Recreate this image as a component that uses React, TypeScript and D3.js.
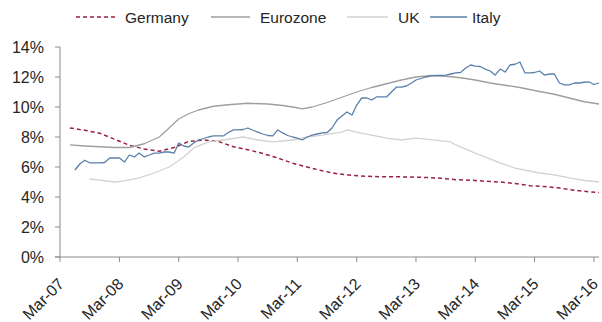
import React from "react";
import * as d3 from "d3";

// Unemployment rate, % of labour force (monthly observations)
const germany: [string, number][] = [
  ["2007-05", 8.6], ["2007-08", 8.45], ["2007-11", 8.25], ["2008-02", 7.85], ["2008-05", 7.45],
  ["2008-08", 7.2], ["2008-11", 7.05], ["2009-02", 7.3], ["2009-05", 7.7], ["2009-08", 7.8],
  ["2009-11", 7.7], ["2010-02", 7.35], ["2010-05", 7.15], ["2010-08", 6.9], ["2010-11", 6.6],
  ["2011-02", 6.25], ["2011-05", 6.0], ["2011-08", 5.75], ["2011-11", 5.55], ["2012-02", 5.45],
  ["2012-05", 5.38], ["2012-08", 5.35], ["2012-11", 5.35], ["2013-02", 5.33], ["2013-05", 5.3],
  ["2013-08", 5.25], ["2013-11", 5.15], ["2014-02", 5.12], ["2014-05", 5.05], ["2014-08", 5.0],
  ["2014-11", 4.9], ["2015-02", 4.75], ["2015-05", 4.7], ["2015-08", 4.6], ["2015-11", 4.45],
  ["2016-02", 4.35], ["2016-04", 4.3],
];

const eurozone: [string, number][] = [
  ["2007-05", 7.47], ["2007-08", 7.4], ["2007-11", 7.35], ["2008-02", 7.3], ["2008-05", 7.3],
  ["2008-08", 7.55], ["2008-11", 8.0], ["2009-01", 8.6], ["2009-03", 9.2], ["2009-05", 9.55],
  ["2009-07", 9.8], ["2009-10", 10.05], ["2010-01", 10.15], ["2010-05", 10.25], ["2010-09", 10.2],
  ["2010-12", 10.1], ["2011-03", 9.95], ["2011-04", 9.87], ["2011-06", 10.0], ["2011-09", 10.3],
  ["2011-12", 10.65], ["2012-03", 11.0], ["2012-06", 11.3], ["2012-09", 11.55], ["2012-12", 11.8],
  ["2013-03", 12.0], ["2013-06", 12.1], ["2013-09", 12.05], ["2013-12", 11.95], ["2014-03", 11.8],
  ["2014-06", 11.6], ["2014-07", 11.55], ["2014-08", 11.5], ["2014-12", 11.3], ["2015-03", 11.1],
  ["2015-07", 10.85], ["2015-10", 10.6], ["2016-01", 10.35], ["2016-04", 10.2],
];

const uk: [string, number][] = [
  ["2007-09", 5.2], ["2007-11", 5.13], ["2008-02", 5.0], ["2008-04", 5.07], ["2008-07", 5.27],
  ["2008-10", 5.6], ["2009-01", 6.0], ["2009-04", 6.67], ["2009-06", 7.27], ["2009-09", 7.67],
  ["2009-12", 7.8], ["2010-04", 8.0], ["2010-07", 7.8], ["2010-10", 7.67], ["2011-02", 7.8],
  ["2011-05", 8.0], ["2011-08", 8.13], ["2011-12", 8.33], ["2012-01", 8.47], ["2012-03", 8.33],
  ["2012-06", 8.13], ["2012-09", 7.93], ["2012-12", 7.8], ["2013-03", 7.93], ["2013-10", 7.67],
  ["2013-11", 7.47], ["2014-03", 6.93], ["2014-08", 6.27], ["2014-11", 5.93], ["2015-04", 5.6],
  ["2015-07", 5.47], ["2015-10", 5.27], ["2016-01", 5.1], ["2016-04", 5.0],
];

// Italy: one value per month, June 2007 through April 2016
const italyStart = "2007-06";
const italy: number[] = [
  5.8, 6.2, 6.45, 6.27, 6.27, 6.27, 6.3, 6.6, 6.6, 6.6,
  6.33, 6.8, 6.67, 6.93, 6.67, 6.8, 6.93, 6.93, 7.0, 7.0,
  6.93, 7.6, 7.4, 7.33, 7.6, 7.8, 7.9, 8.0, 8.07, 8.07,
  8.07, 8.3, 8.47, 8.47, 8.5, 8.6, 8.45, 8.33, 8.2, 8.1,
  8.07, 8.47, 8.27, 8.1, 8.0, 7.93, 7.8, 8.0, 8.13, 8.2,
  8.27, 8.3, 8.6, 9.13, 9.4, 9.67, 9.47, 10.13, 10.6, 10.6,
  10.47, 10.67, 10.67, 10.67, 11.0, 11.33, 11.33, 11.4, 11.6, 11.8,
  11.9, 12.0, 12.07, 12.1, 12.1, 12.13, 12.2, 12.27, 12.3, 12.6,
  12.8, 12.73, 12.7, 12.53, 12.4, 12.13, 12.53, 12.33, 12.8, 12.85,
  13.0, 12.27, 12.27, 12.3, 12.4, 12.13, 12.2, 12.2, 11.6, 11.47,
  11.47, 11.6, 11.6, 11.65, 11.67, 11.5, 11.6,
];

const yTicks = [0, 2, 4, 6, 8, 10, 12, 14];
const xTickYears = [2007, 2008, 2009, 2010, 2011, 2012, 2013, 2014, 2015, 2016];

const parse = d3.timeParse("%Y-%m");
const fmtX = d3.timeFormat("%b-%y");

type Pt = { date: Date; value: number };

const toPts = (rows: [string, number][]): Pt[] =>
  rows.map(([d, v]) => ({ date: parse(d) as Date, value: v }));

const italyPts: Pt[] = italy.map((v, i) => ({
  date: d3.timeMonth.offset(parse(italyStart) as Date, i),
  value: v,
}));

const FONT = "'Liberation Sans', Arial, sans-serif";

const series = [
  { name: "Germany", pts: toPts(germany), color: "#9b2040", width: 1.5, dash: "4,3" },
  { name: "Eurozone", pts: toPts(eurozone), color: "#9f9f9f", width: 1.3, dash: undefined },
  { name: "UK", pts: toPts(uk), color: "#d2d2d2", width: 1.3, dash: undefined },
  { name: "Italy", pts: italyPts, color: "#5a80aa", width: 1.3, dash: undefined },
];

const legendItems = [
  { name: "Germany", lx: 76, lw: 39, tx: 125 },
  { name: "Eurozone", lx: 211, lw: 39, tx: 260 },
  { name: "UK", lx: 347, lw: 41, tx: 398 },
  { name: "Italy", lx: 430, lw: 37, tx: 472 },
];

export default function App() {
  const W = 602;
  const H = 322;
  const left = 60;
  const right = 599;
  const top = 47;
  const bottom = 257;

  const x = d3
    .scaleTime()
    .domain([parse("2007-03") as Date, parse("2016-04") as Date])
    .range([left, right]);
  const y = d3.scaleLinear().domain([0, 14]).range([bottom, top]);

  const line = d3
    .line<Pt>()
    .x((d) => x(d.date))
    .y((d) => y(d.value));

  const axisColor = "#8c8c8c";
  const textColor = "#262626";

  return (
    <svg
      width={W}
      height={H}
      style={{ position: "absolute", left: 0, top: 0, background: "#fff" }}
      fontFamily={FONT}
    >
      {/* legend */}
      {legendItems.map((it) => {
        const s = series.find((q) => q.name === it.name)!;
        return (
          <g key={it.name}>
            <line
              x1={it.lx}
              x2={it.lx + it.lw}
              y1={17}
              y2={17}
              stroke={s.color}
              strokeWidth={s.width}
              strokeDasharray={s.dash}
            />
            <text x={it.tx} y={22.5} fontSize={15.5} fill={textColor}>
              {it.name}
            </text>
          </g>
        );
      })}

      {/* y axis */}
      <line x1={left} x2={left} y1={top} y2={bottom} stroke={axisColor} strokeWidth={1} />
      {yTicks.map((t) => (
        <g key={t}>
          <line x1={left - 5} x2={left} y1={y(t)} y2={y(t)} stroke={axisColor} />
          <text
            x={left - 16}
            y={y(t)}
            dy="0.36em"
            textAnchor="end"
            fontSize={16}
            fill={textColor}
          >
            {`${t}%`}
          </text>
        </g>
      ))}

      {/* x axis */}
      <line x1={left - 5} x2={right} y1={bottom} y2={bottom} stroke={axisColor} strokeWidth={1} />
      {xTickYears.map((yr) => {
        const d = new Date(yr, 2, 1);
        const px = x(d);
        return (
          <g key={yr}>
            <line x1={px} x2={px} y1={bottom} y2={bottom + 5} stroke={axisColor} />
            <text
              transform={`translate(${px + 5},${bottom + 28}) rotate(-45)`}
              textAnchor="end"
              fontSize={16}
              fill={textColor}
            >
              {fmtX(d)}
            </text>
          </g>
        );
      })}

      {/* series */}
      {series.map((s) => (
        <path
          key={s.name}
          d={line(s.pts) ?? ""}
          fill="none"
          stroke={s.color}
          strokeWidth={s.width}
          strokeDasharray={s.dash}
          strokeLinejoin="round"
        />
      ))}
    </svg>
  );
}
